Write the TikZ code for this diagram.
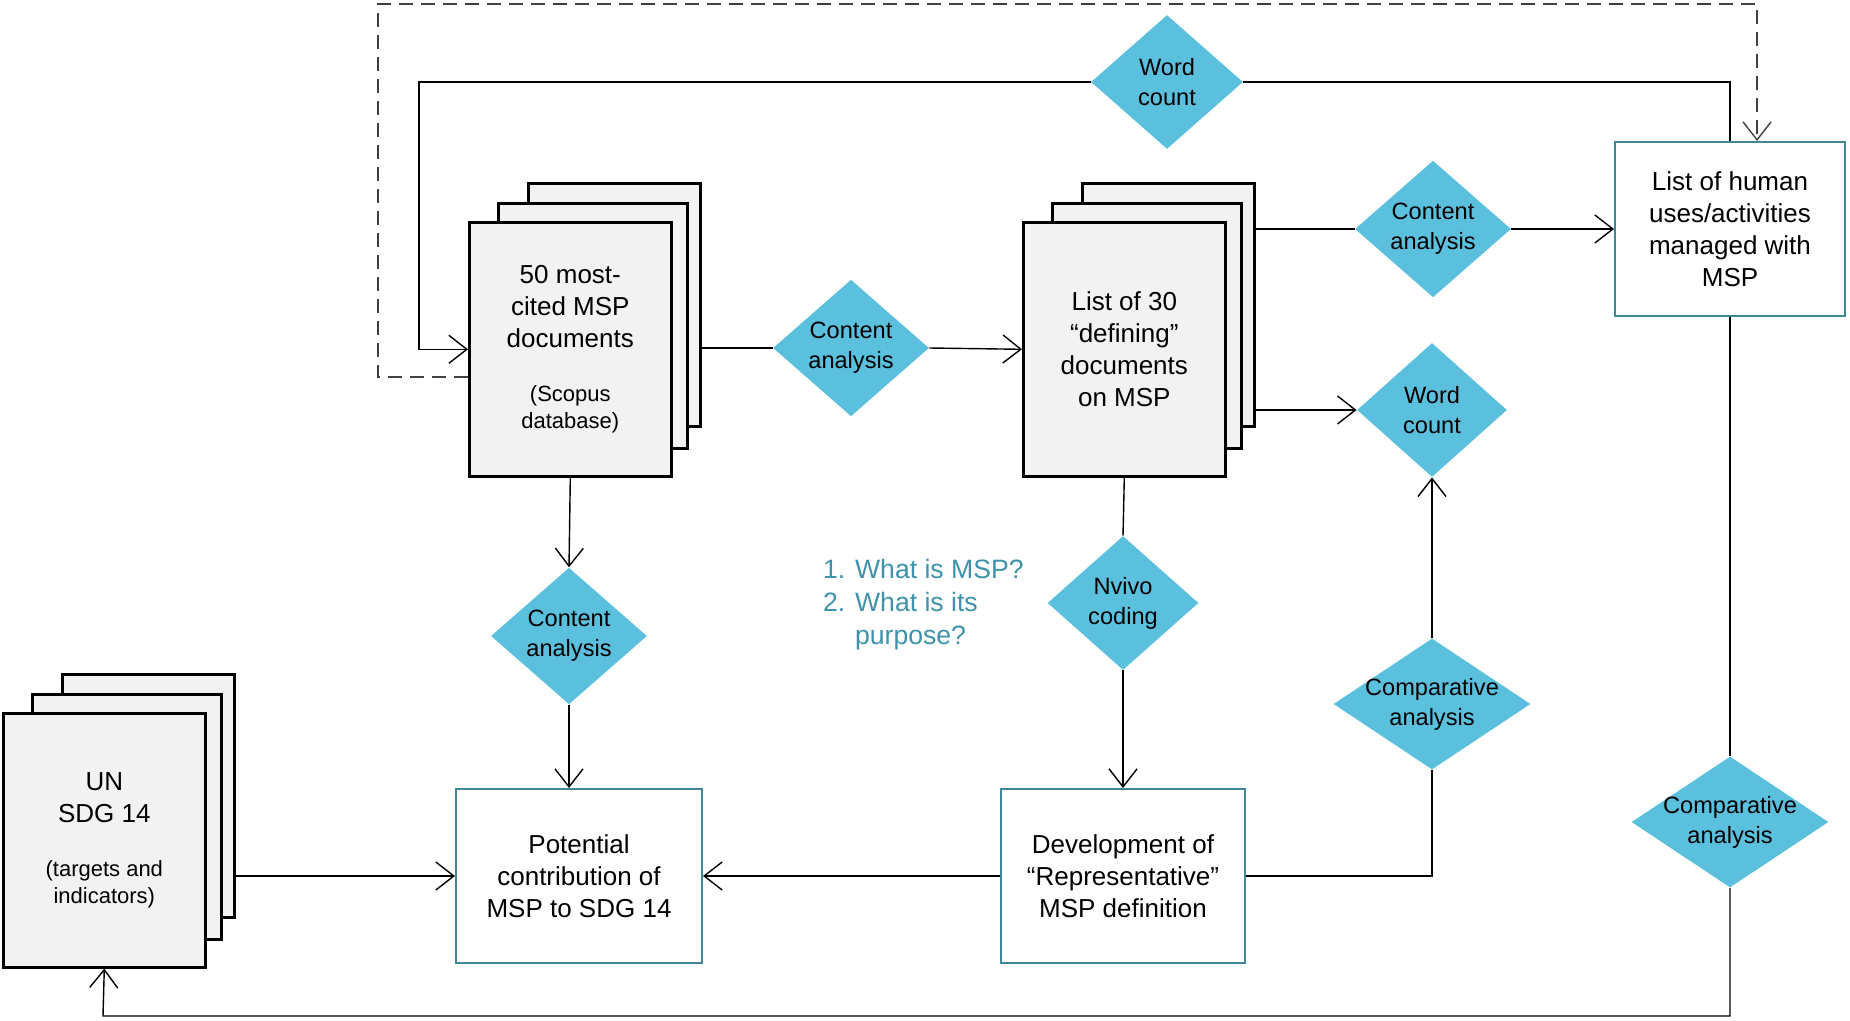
\documentclass[tikz,border=0pt]{standalone}
\usepackage{fontspec}
\setmainfont{Liberation Sans}
\usetikzlibrary{shapes.geometric}
\usetikzlibrary{arrows.meta}
\usetikzlibrary{calc}
\definecolor{diamondblue}{RGB}{91,192,222}
\definecolor{boxteal}{RGB}{64,135,152}
\definecolor{questionblue}{RGB}{62,146,172}
\definecolor{pagegray}{RGB}{242,242,242}
\def\boxfont{\fontsize{13}{16}\selectfont}
\def\notefont{\fontsize{11}{13.5}\selectfont}
\def\methodfont{\fontsize{11.8}{15}\selectfont}
\def\questfont{\fontsize{13.3}{16.5}\selectfont}
\tikzset{
  docpage/.style = {draw, line width = 1.3pt, fill = pagegray, inner sep = 0pt},
  docfront/.style = {docpage, anchor = north west, minimum width = 101pt,
    minimum height = 127pt, align = center, font = \boxfont},
  method/.style = {diamond, fill = diamondblue, inner sep = 0pt, align = center,
    font = \methodfont, minimum width = 78pt, minimum height = 67pt},
  wide method/.style = {method, aspect = 1.5, inner xsep = -6pt, inner ysep = 0.5pt,
    minimum width = 98.5pt, minimum height = 65.5pt},
  result/.style = {draw = boxteal, line width = 1pt, fill = white, inner sep = 0pt,
    align = center, font = \boxfont, minimum height = 87pt},
  question/.style = {text = questionblue, align = left, font = \questfont},
  link/.style = {line width = 0.7pt},
  flow/.style = {link, -{Straight Barb[length = 9pt, width = 14pt]}},
  loopback/.style = {flow, draw = black!75, dash pattern = on 7pt off 4pt}
}

\begin{document}
\begin{tikzpicture} [x = 0.5 pt, y = -0.5 pt]
    \useasboundingbox (0, 0) rectangle (1850, 1021);

    % pages behind the three document stacks
    \foreach \stack/\px/\py in {most/468/221, defin/1022/221, sdg/2/712} {
      \node[docpage, anchor = north west, minimum width = 86pt,
        minimum height = 121.5pt] (\stack-back) at (\px + 59, \py - 39) {};
      \node[docpage, anchor = north west, minimum width = 94.5pt,
        minimum height = 122.5pt] (\stack-mid) at (\px + 29, \py - 19) {};
    }
    \node[docfront] (most) at (468, 221)
      {50 most-\\cited MSP\\documents\\[11pt]{\notefont (Scopus}\\[-2.5pt]{\notefont database)}};
    \node[docfront] (defin) at (1022, 221)
      {List of 30\\``defining''\\documents\\on MSP};
    \node[docfront] (sdg) at (2, 712)
      {UN\\SDG 14\\[11pt]{\notefont (targets and}\\[-2.5pt]{\notefont indicators)}};

    \node[result, minimum width = 115pt] (human) at (1730, 229)
      {List of human\\uses/activities\\managed with\\MSP};
    \node[result, minimum width = 123pt] (pot) at (579, 876)
      {Potential\\contribution of\\MSP to SDG 14};
    \node[result, minimum width = 122pt] (dev) at (1123, 876)
      {Development of\\``Representative''\\MSP definition};

    \node[method, minimum width = 76pt] (wc1) at (1167, 82) {Word\\count};
    \node[method] (ca1) at (851, 348) {Content\\analysis};
    \node[method] (ca2) at (1433, 229) {Content\\analysis};
    \node[method, minimum width = 75pt] (wc2) at (1432, 410) {Word\\count};
    \node[method] (ca3) at (569, 636) {Content\\analysis};
    \node[method, minimum width = 75.5pt] (nv) at (1123, 603) {Nvivo\\coding};
    \node[wide method] (cmp1) at (1432, 704) {Comparative\\analysis};
    \node[wide method] (cmp2) at (1730, 822) {Comparative\\analysis};

    \node[question, anchor = west] (quest) at (816, 605)
      {1. What is MSP?\\2. What is its\\\phantom{2. }purpose?};

    \coordinate (wcturn) at (419, 82);
    \coordinate (loopsw) at (103, 1016);
    \coordinate (dashsw) at (378, 377);
    \coordinate (dashnw) at (378, 4);
    \coordinate (dashne) at (1757, 4);

    \draw[link] (most-back.east |- ca1.west) -- (ca1.west);
    \draw[flow] (ca1.east) -- (defin.west);
    \draw[link] (defin-back.east |- ca2.west) -- (ca2.west);
    \draw[flow] (ca2.east) -- (human.west);
    \draw[flow] (defin-back.east |- wc2.west) -- (wc2.west);
    \draw[link] (defin.south) -- (nv.north);
    \draw[flow] (nv.south) -- (dev.north);
    \draw[link] (dev.east) -| (cmp1.south);
    \draw[flow] (cmp1.north) -- (wc2.south);
    \draw[flow] (dev.west) -- (pot.east);
    \draw[flow] (most.south) -- (ca3.north);
    \draw[flow] (ca3.south) -- (ca3.south |- pot.north);
    \draw[flow] (sdg-back.east |- pot.west) -- (pot.west);
    \draw[link] (human.south) -- (cmp2.north);
    \draw[flow] (cmp2.south) |- (loopsw) -- (sdg.south);
    \draw[link] (human.north) |- (wc1.east);
    \draw[flow] (wc1.west) -- (wcturn) |- (most.west);
    \draw[loopback] (most.west |- dashsw) -- (dashsw) -- (dashnw)
      -- (dashne) -- (dashne |- human.north);
  \end{tikzpicture}
\end{document}
